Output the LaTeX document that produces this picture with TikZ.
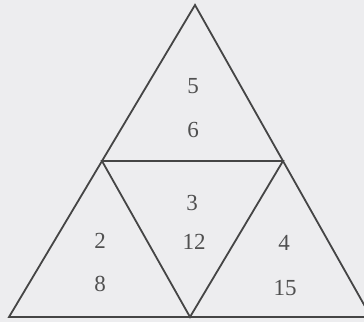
\documentclass[tikz,border=0pt]{standalone}
\usepackage{fontspec}
\setmainfont{Liberation Serif}
\definecolor{paper}{HTML}{EDEDEF}
\definecolor{ink}{HTML}{454545}
\definecolor{txt}{HTML}{505050}
\begin{document}
\begin{tikzpicture}[x=1pt,y=-1pt,
  edge/.style={draw=ink,line width=1.8pt,line join=miter},
  num/.style={text=txt,font=\fontsize{23}{26}\selectfont,inner sep=0pt}]
\fill[paper] (0,0) rectangle (364,322);
\useasboundingbox (0,0) rectangle (364,322);
\clip (0,0) rectangle (364,322);
\coordinate (A) at (195,5);
\coordinate (BL) at (9,317);
\coordinate (BR) at (371,317);
\coordinate (ML) at (102,161);
\coordinate (MR) at (283,161);
\coordinate (MB) at (190,317);
\draw[edge] (A) -- (BL) -- (BR) -- cycle;
\draw[edge] (ML) -- (MR) -- (MB) -- cycle;
\node[num] (n5) at (193,86) {5};
\node[num] (n6) at (193,130) {6};
\node[num] (n3) at (192,203) {3};
\node[num] (n12) at (194,242) {12};
\node[num] (n2) at (100,241) {2};
\node[num] (n8) at (100,284) {8};
\node[num] (n4) at (284,243) {4};
\node[num] (n15) at (285,288) {15};
\end{tikzpicture}
\end{document}
